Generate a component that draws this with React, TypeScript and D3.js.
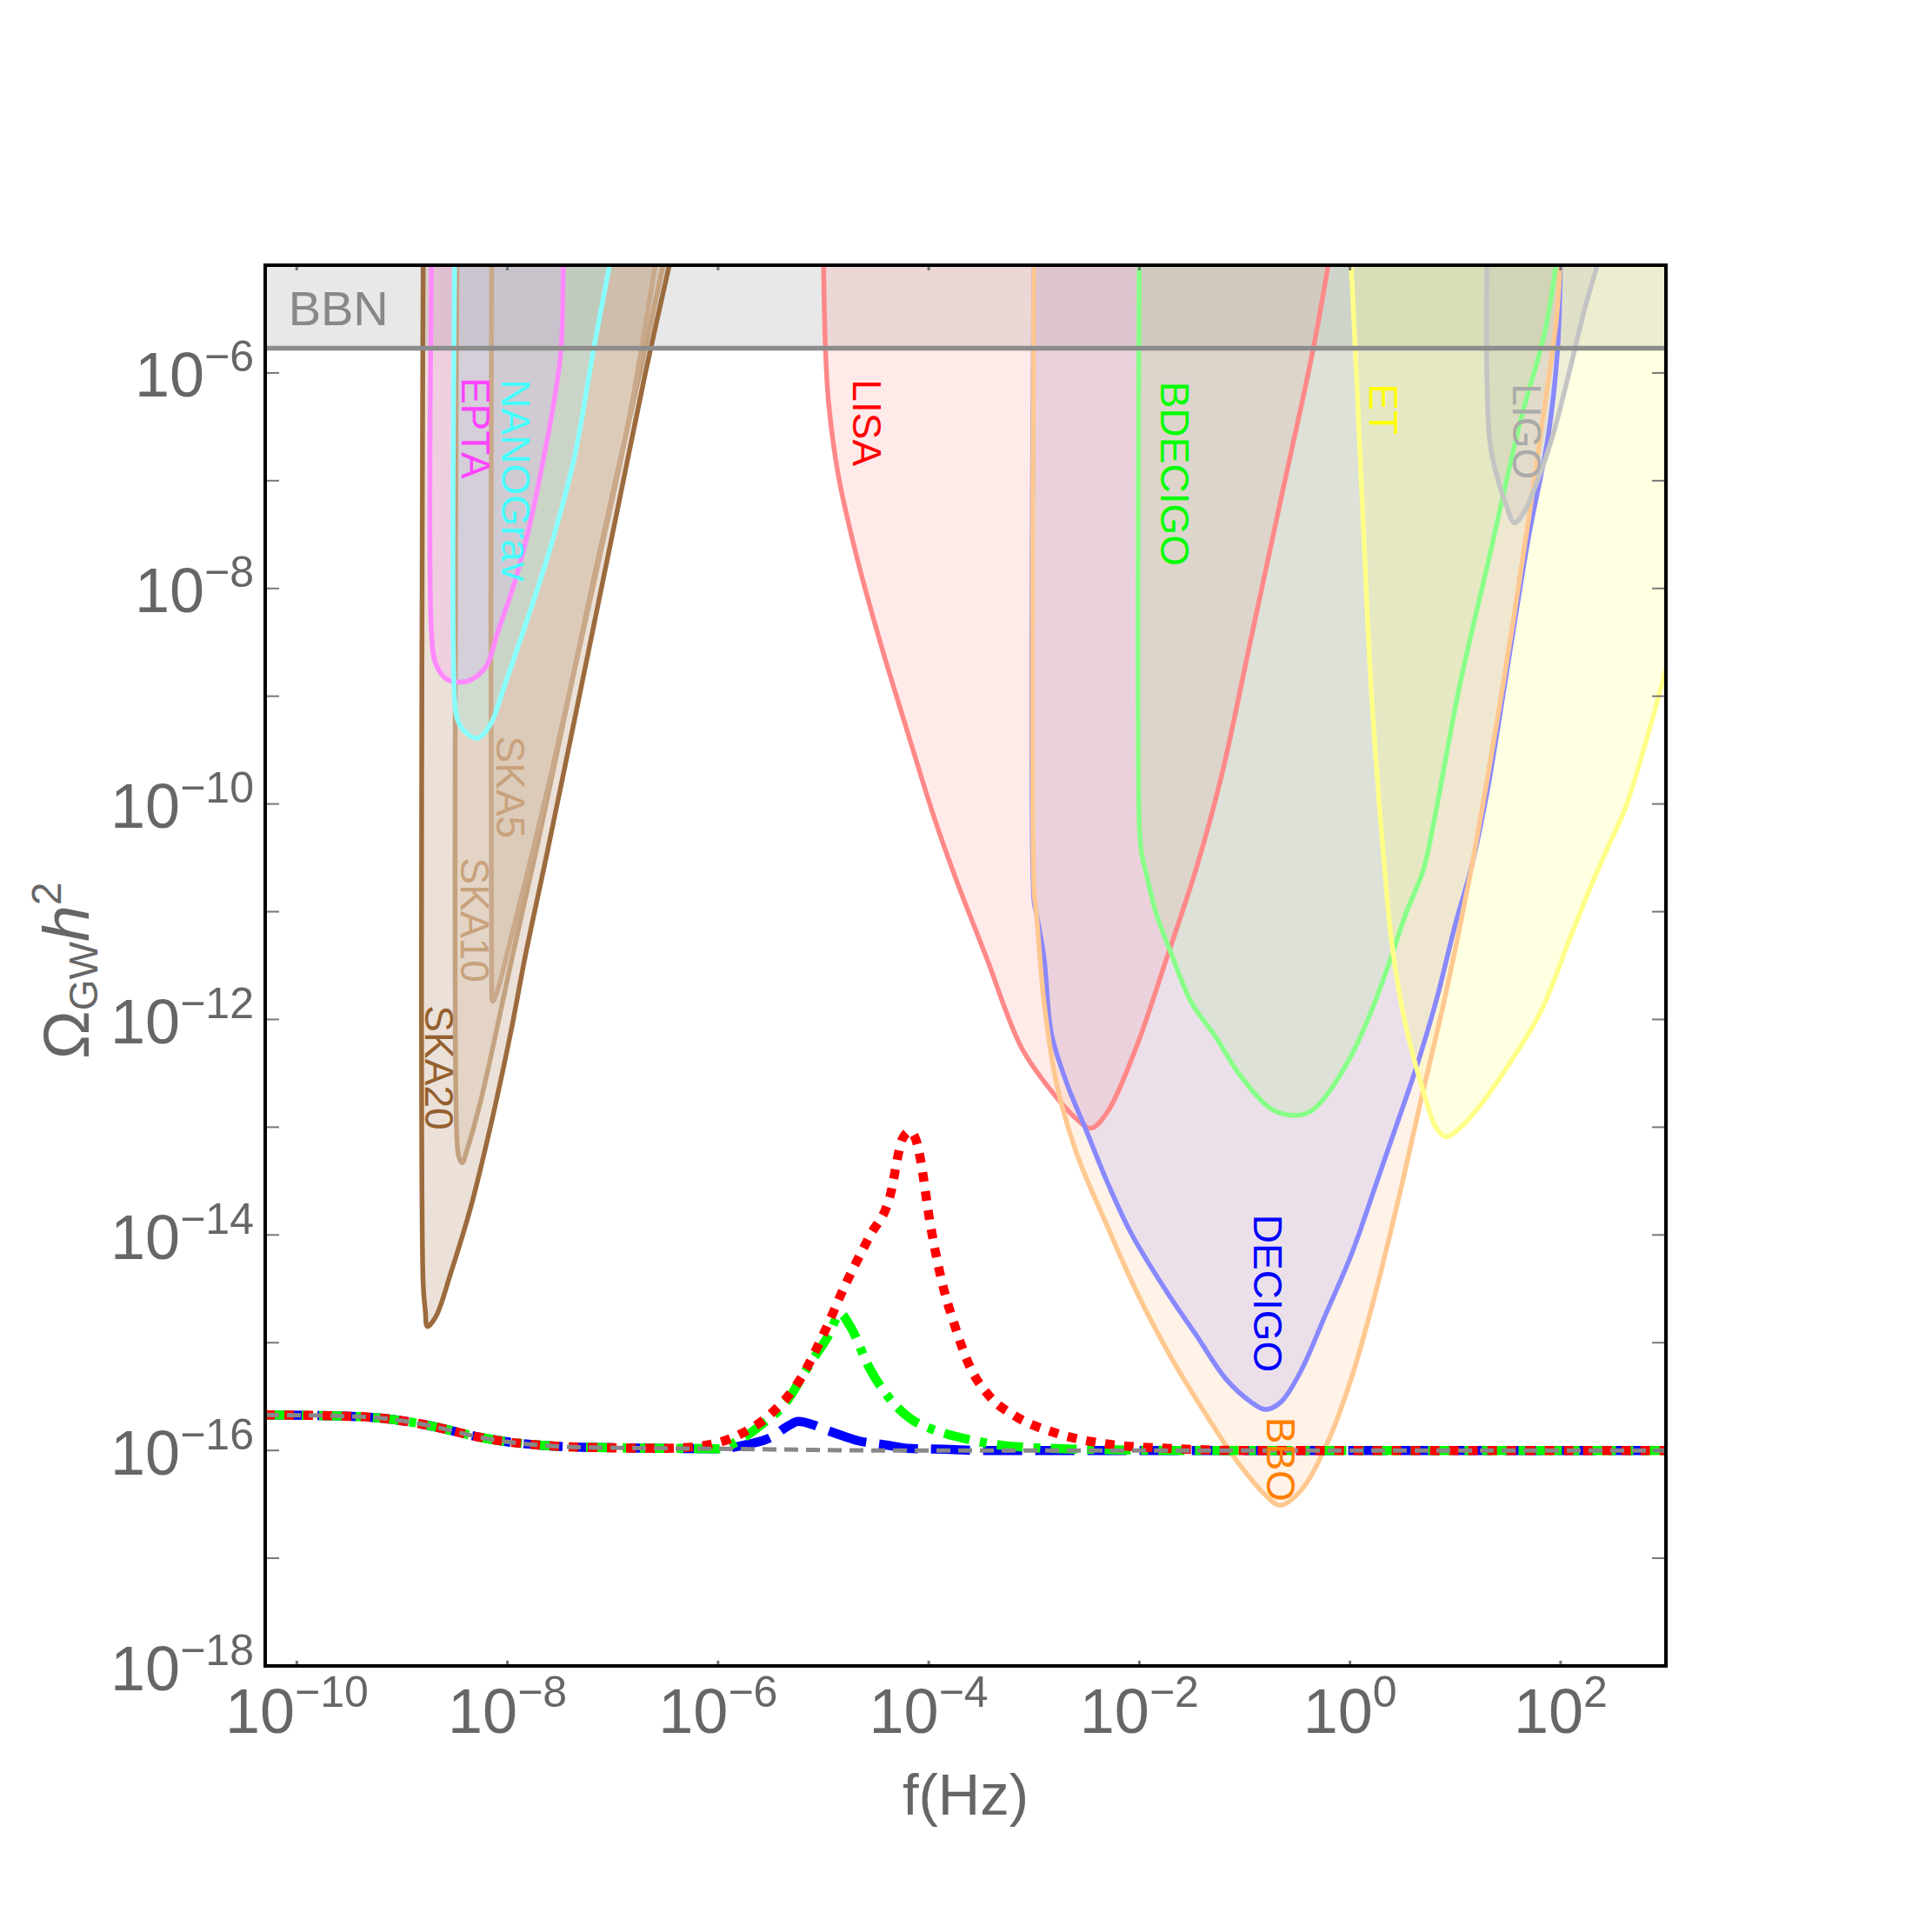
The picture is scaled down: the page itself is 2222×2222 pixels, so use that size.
import React from 'react';
import * as d3 from 'd3';

type Pt = [number, number]; // [log10 f, log10 Omega h^2]

// sensitivity curves (log10 values)
const SKA20: Pt[] = [[-8.80, -4.9], [-8.80, -14.45], [-8.78, -14.7], [-8.76, -14.85], [-8.68, -14.76], [-8.54, -14.36], [-8.35, -13.75], [-8.16, -12.99], [-7.97, -12.13], [-7.83, -11.41], [-7.62, -10.44], [-7.38, -9.3], [-7.15, -8.2], [-6.92, -7.1], [-6.69, -6.0], [-6.44, -4.9]];
const SKA10: Pt[] = [[-8.48, -4.9], [-8.48, -13.1], [-8.46, -13.28], [-8.43, -13.33], [-8.38, -13.2], [-8.25, -12.74], [-8.11, -12.13], [-7.95, -11.4], [-7.72, -10.4], [-7.46, -9.2], [-7.2, -8.0], [-6.95, -6.9], [-6.72, -5.9], [-6.5, -4.9]];
const SKA5: Pt[] = [[-8.15, -4.9], [-8.15, -11.65], [-8.14, -11.83], [-8.10, -11.75], [-7.98, -11.3], [-7.80, -10.6], [-7.58, -9.7], [-7.35, -8.7], [-7.1, -7.6], [-6.86, -6.5], [-6.58, -4.9]];
const EPTA: Pt[] = [[-8.72, -4.9], [-8.72, -8.43], [-8.68, -8.70], [-8.58, -8.84], [-8.44, -8.87], [-8.33, -8.84], [-8.20, -8.72], [-8.09, -8.40], [-7.94, -7.97], [-7.80, -7.46], [-7.66, -6.81], [-7.54, -6.16], [-7.49, -5.77], [-7.47, -4.9]];
const NANOGRAV: Pt[] = [[-8.50, -4.9], [-8.50, -9.05], [-8.47, -9.23], [-8.38, -9.35], [-8.28, -9.39], [-8.16, -9.26], [-8.04, -8.94], [-7.85, -8.40], [-7.61, -7.68], [-7.37, -6.81], [-7.18, -5.77], [-7.03, -5.0], [-7.01, -4.9]];
const LISA: Pt[] = [[-5.0, -4.9], [-4.98, -5.78], [-4.95, -6.28], [-4.86, -6.94], [-4.69, -7.68], [-4.46, -8.50], [-4.23, -9.24], [-3.94, -10.15], [-3.74, -10.7], [-3.45, -11.43], [-3.12, -12.26], [-2.83, -12.67], [-2.60, -12.92], [-2.46, -13.01], [-2.31, -12.87], [-2.03, -12.26], [-1.74, -11.43], [-1.46, -10.6], [-1.22, -9.74], [-0.93, -8.42], [-0.64, -7.10], [-0.35, -5.78], [-0.19, -4.9]];
const BBO: Pt[] = [[-3.0, -4.9], [-3.0, -10.8], [-2.977, -11.02], [-2.905, -11.84], [-2.787, -12.59], [-2.597, -13.24], [-2.313, -13.90], [-2.03, -14.52], [-1.697, -15.14], [-1.365, -15.67], [-1.08, -16.09], [-0.796, -16.42], [-0.663, -16.51], [-0.465, -16.37], [-0.228, -15.96], [0.01, -15.34], [0.247, -14.52], [0.484, -13.57], [0.674, -12.75], [0.91, -11.76], [1.15, -10.61], [1.35, -9.5], [1.55, -8.3], [1.72, -7.2], [1.85, -6.3], [1.96, -5.5], [2.0, -4.9]];
const DECIGO: Pt[] = [[-3.0, -4.9], [-3.0, -10.9], [-2.977, -11.02], [-2.905, -11.43], [-2.835, -12.13], [-2.69, -12.59], [-2.50, -13.04], [-2.313, -13.49], [-2.075, -13.99], [-1.745, -14.52], [-1.46, -14.93], [-1.175, -15.34], [-0.94, -15.55], [-0.805, -15.62], [-0.655, -15.55], [-0.465, -15.26], [-0.228, -14.73], [0.01, -14.19], [0.247, -13.53], [0.435, -13.0], [0.625, -12.46], [0.815, -11.84], [1.005, -11.10], [1.147, -10.61], [1.3, -9.9], [1.5, -8.7], [1.7, -7.5], [1.88, -6.6], [1.97, -5.8], [2.0, -4.9]];
const BDECIGO: Pt[] = [[-2.0, -4.9], [-2.0, -10.2], [-1.98, -10.45], [-1.934, -10.65], [-1.839, -11.02], [-1.697, -11.39], [-1.507, -11.84], [-1.27, -12.17], [-1.057, -12.50], [-0.749, -12.83], [-0.535, -12.89], [-0.37, -12.85], [-0.228, -12.71], [0.01, -12.34], [0.20, -11.93], [0.389, -11.43], [0.53, -11.02], [0.697, -10.61], [0.80, -10.15], [1.04, -8.91], [1.33, -7.68], [1.62, -6.44], [1.85, -5.62], [1.97, -4.9]];
const ET: Pt[] = [[0.0, -4.9], [0.01, -5.0], [0.05, -5.78], [0.12, -7.27], [0.20, -8.91], [0.29, -10.15], [0.33, -10.61], [0.389, -11.23], [0.484, -11.84], [0.579, -12.26], [0.697, -12.67], [0.815, -13.0], [0.91, -13.09], [1.053, -13.0], [1.243, -12.79], [1.48, -12.46], [1.81, -11.93], [2.095, -11.23], [2.285, -10.77], [2.45, -10.4], [2.61, -10.05], [2.84, -9.32], [3.0, -8.75], [3.2, -8.0], [3.3, -4.9]];
const LIGO: Pt[] = [[1.30, -4.9], [1.30, -6.03], [1.33, -6.65], [1.39, -6.94], [1.48, -7.22], [1.56, -7.39], [1.65, -7.3], [1.78, -7.0], [1.92, -6.6], [2.08, -6.0], [2.23, -5.4], [2.38, -4.9]];

const BBN_LEVEL = -5.77;

// spectra
const baseF = [-10.3, -9.6, -9.2, -8.9, -8.6, -8.3, -8.0, -7.7, -7.3, -6.5, -5.5, -4.5, -3.0, 0, 3];
const baseOmega = [-15.67, -15.68, -15.70, -15.74, -15.80, -15.87, -15.92, -15.95, -15.97, -15.98, -15.99, -16.0, -16.0, -16.0, -16.0];

const blueF = [-10.3, -9.6, -9.2, -8.9, -8.6, -8.3, -8.0, -7.7, -7.3, -6.5, -6.0, -5.85, -5.7, -5.5, -5.33, -5.24, -5.1, -5.0, -4.8, -4.67, -4.4, -4.2, -3.8, -3.5, -2.0, 0, 3];
const blueOmega = [-15.67, -15.68, -15.70, -15.74, -15.80, -15.87, -15.92, -15.95, -15.97, -15.98, -15.985, -15.97, -15.94, -15.88, -15.77, -15.73, -15.76, -15.80, -15.87, -15.91, -15.95, -15.98, -15.99, -16.0, -16.0, -16.0, -16.0];

const greenF = [-10.3, -9.6, -9.2, -8.9, -8.6, -8.3, -8.0, -7.7, -7.3, -6.5, -6.0, -5.79, -5.6, -5.36, -5.13, -4.95, -4.84, -4.75, -4.56, -4.37, -4.18, -3.95, -3.70, -3.23, -2.5, -1.5, 0, 3];
const greenOmega = [-15.67, -15.68, -15.70, -15.74, -15.80, -15.87, -15.92, -15.95, -15.97, -15.98, -15.985, -15.90, -15.77, -15.56, -15.2, -14.93, -14.73, -14.84, -15.24, -15.52, -15.70, -15.81, -15.88, -15.96, -15.99, -16.0, -16.0, -16.0];

const redF = [-10.3, -9.6, -9.2, -8.9, -8.6, -8.3, -8.0, -7.7, -7.3, -6.5, -6.17, -5.79, -5.51, -5.22, -4.98, -4.80, -4.56, -4.37, -4.25, -4.18, -4.12, -4.08, -3.99, -3.89, -3.75, -3.61, -3.42, -3.18, -2.79, -2.31, -1.74, -1.0, 0, 3];
const redOmega = [-15.67, -15.68, -15.70, -15.74, -15.80, -15.87, -15.92, -15.95, -15.97, -15.98, -15.96, -15.85, -15.67, -15.34, -14.88, -14.48, -14.01, -13.65, -13.11, -13.04, -13.12, -13.29, -13.87, -14.37, -14.85, -15.22, -15.50, -15.68, -15.84, -15.94, -15.98, -16.0, -16.0, -16.0];

const xTickExps = [-10, -8, -6, -4, -2, 0, 2];
const yTickExps = [-18, -16, -14, -12, -10, -8, -6];

// detector labels: text, anchor [log10 f, log10 Omega]
const labelNames = ['LISA', 'BDECIGO', 'ET', 'LIGO', 'EPTA', 'NANOGrav', 'SKA5', 'SKA10', 'SKA20', 'DECIGO', 'BBO'];
const labelAnchors: Pt[] = [[-4.72, -6.06], [-1.795, -6.08], [0.185, -6.1], [1.547, -6.1], [-8.434, -6.04], [-8.054, -6.06], [-8.1, -9.37], [-8.445, -10.5], [-8.777, -11.87], [-0.914, -13.81], [-0.787, -15.69]];

// fills are drawn first (in this order), outlines afterwards
const regionStyles = [
  { pts: SKA20, stroke: '#9c6b3d', fill: '#9c6b3d', op: 0.2 },
  { pts: SKA10, stroke: '#c4a27f', fill: '#c4a27f', op: 0.2 },
  { pts: SKA5, stroke: '#c9a98a', fill: '#c9a98a', op: 0.2 },
  { pts: EPTA, stroke: '#ff88ff', fill: '#ff88ff', op: 0.2 },
  { pts: NANOGRAV, stroke: '#88ffff', fill: '#88ffff', op: 0.2 },
  { pts: LISA, stroke: '#ff8888', fill: '#ff9494', op: 0.2 },
  { pts: BBO, stroke: '#ffc890', fill: '#ffc080', op: 0.2 },
  { pts: DECIGO, stroke: '#8888ff', fill: '#8080ff', op: 0.16 },
  { pts: BDECIGO, stroke: '#88ff88', fill: '#8eeb71', op: 0.15 },
  { pts: ET, stroke: '#ffff88', fill: '#ffff80', op: 0.24 },
  { pts: LIGO, stroke: '#c4c4c4', fill: '#b0b0b0', op: 0.2 },
];
const strokeOrder = [0, 1, 2, 3, 4, 5, 7, 6, 8, 9, 10];
const labelColors = ['#ff0000', '#00ff00', '#ffff00', '#aaaaaa', '#ff44ff', '#44ffff', '#c8a27d', '#c8a27d', '#94602f', '#0000ff', '#ff8000'];

const W = 2222;
const L = 305, R = 1916, T = 305, B = 1916;
const FONT = '"Liberation Sans", Arial, Helvetica, sans-serif';
const GREY = '#666666';

const x = d3.scaleLog().domain([10 ** -10.3, 1e3]).range([L, R]);
const y = d3.scaleLog().domain([1e-18, 1e-5]).range([B, T]);
const px = (p: Pt) => x(10 ** p[0]);
const py = (p: Pt) => y(10 ** p[1]);

const outline = d3.line<Pt>().x(px).y(py).curve(d3.curveCatmullRom.alpha(0.5));
const spectrum = d3.line<Pt>().x(px).y(py).curve(d3.curveMonotoneX);

const zip = (a: number[], b: number[]): Pt[] => a.map((v, i) => [v, b[i]]);
const sup = (e: number) => (e < 0 ? '\u2212' + Math.abs(e) : String(e));

export default function App() {
  const bbnY = y(10 ** BBN_LEVEL);
  return (
    <svg width={W} height={W} style={{ position: 'absolute', left: 0, top: 0, background: '#fff' }} fontFamily={FONT}>
      <defs>
        <clipPath id="plot">
          <rect x={L} y={T} width={R - L} height={B - T} />
        </clipPath>
      </defs>
      <rect x={0} y={0} width={W} height={W} fill="#fff" />
      <g clipPath="url(#plot)">
        <rect x={L} y={T} width={R - L} height={bbnY - T} fill="rgb(150,150,150)" fillOpacity={0.22} />
        {regionStyles.map((r, i) => (
          <path key={'f' + i} d={outline(r.pts) + 'Z'} fill={r.fill} fillOpacity={r.op} stroke="none" />
        ))}
        {strokeOrder.map(i => (
          <path key={'s' + i} d={outline(regionStyles[i].pts) || ''} fill="none" stroke={regionStyles[i].stroke} strokeWidth={5.5} strokeLinejoin="round" />
        ))}
        <line x1={L} x2={R} y1={bbnY} y2={bbnY} stroke="#8c8c8c" strokeWidth={5.5} />
        <path d={spectrum(zip(blueF, blueOmega)) || ''} fill="none" stroke="#0000ff" strokeWidth={10.5} strokeDasharray="45 15" />
        <path d={spectrum(zip(greenF, greenOmega)) || ''} fill="none" stroke="#00ff00" strokeWidth={10.5} strokeDasharray="30 12 8 12" />
        <path d={spectrum(zip(redF, redOmega)) || ''} fill="none" stroke="#ff0000" strokeWidth={10.5} strokeDasharray="11 11" />
        <path d={spectrum(zip(baseF, baseOmega)) || ''} fill="none" stroke="#888888" strokeWidth={5} strokeDasharray="16 9" />
        {labelNames.map((t, i) => (
          <text key={t} transform={`translate(${px(labelAnchors[i])},${py(labelAnchors[i])}) rotate(90)`} fontSize={46} fill={labelColors[i]}>
            {t}
          </text>
        ))}
        <text x={x(10 ** -10.08)} y={y(10 ** -5.56)} fontSize={56} fill="#888888">BBN</text>
      </g>

      {/* ticks */}
      {d3.range(-18, -4).map(e => (
        <g key={'y' + e} stroke="#777" strokeWidth={2}>
          <line x1={L} x2={L + 16} y1={y(10 ** e)} y2={y(10 ** e)} />
          <line x1={R - 16} x2={R} y1={y(10 ** e)} y2={y(10 ** e)} />
        </g>
      ))}
      {xTickExps.map(e => (
        <g key={'x' + e} stroke="#777" strokeWidth={3}>
          <line x1={x(10 ** e)} x2={x(10 ** e)} y1={B} y2={B - 6} />
          <line x1={x(10 ** e)} x2={x(10 ** e)} y1={T} y2={T + 6} />
        </g>
      ))}
      <rect x={L} y={T} width={R - L} height={B - T} fill="none" stroke="#000" strokeWidth={4} />

      {/* tick labels */}
      {xTickExps.map(e => (
        <text key={'xl' + e} x={x(10 ** e)} y={1993} textAnchor="middle" fontSize={72} fill={GREY}>
          10<tspan fontSize={50} dy={-30}>{sup(e)}</tspan>
        </text>
      ))}
      {yTickExps.map(e => (
        <text key={'yl' + e} x={292} y={y(10 ** e) + 27.5} textAnchor="end" fontSize={72} fill={GREY}>
          10<tspan fontSize={50} dy={-29}>{sup(e)}</tspan>
        </text>
      ))}

      {/* axis labels */}
      <text x={(L + R) / 2} y={2087} textAnchor="middle" fontSize={67} fill={GREY}>f(Hz)</text>
      <text transform={`translate(102,${(T + B) / 2 + 6}) rotate(-90)`} textAnchor="middle" fontSize={75} fill={GREY}>
        Ω<tspan fontSize={46} dy={10}>GW</tspan>
        <tspan fontStyle="italic" fontSize={75} dy={-10}>h</tspan>
        <tspan fontSize={48} dy={-32}>2</tspan>
      </text>
    </svg>
  );
}
